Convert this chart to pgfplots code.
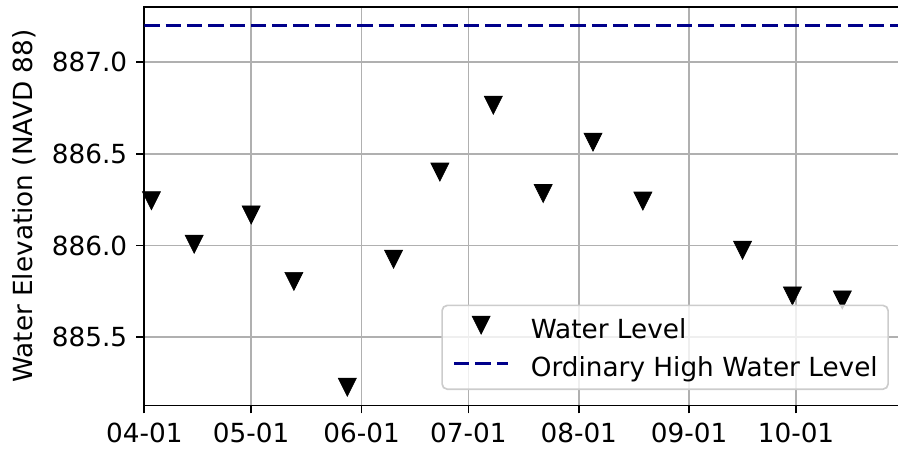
\documentclass[border=0pt]{standalone}
\usepackage{pgfplots}
\pgfplotsset{compat=1.18}
\usepackage{pgfplotstable}
\usepackage{fontspec}
\setmainfont{DejaVu Sans}
\definecolor{gridgray}{HTML}{B0B0B0}
\definecolor{ohwl}{HTML}{00008B}
\definecolor{legframe}{HTML}{CCCCCC}
\pgfdeclareplotmark{vtri}{%
  \pgfpathmoveto{\pgfqpoint{0pt}{-\pgfplotmarksize}}%
  \pgfpathlineto{\pgfqpoint{-\pgfplotmarksize}{\pgfplotmarksize}}%
  \pgfpathlineto{\pgfqpoint{\pgfplotmarksize}{\pgfplotmarksize}}%
  \pgfpathclose\pgfusepathqfillstroke}
\pgfplotsset{
  markimg/.style={legend image code/.code={\path (0bp,1.5bp) (26bp,1.5bp); \draw[mark=vtri,##1,fill opacity=1,draw opacity=1] plot coordinates {(13bp,1.5bp)};}},
  lineimg/.style={legend image code/.code={\draw[##1,draw opacity=1] (0bp,1.5bp) -- (26bp,1.5bp);}},
}

% day = days since 04-01
\pgfplotstableread{
day level
2   886.244
14  886.007
30  886.166
42  885.804
57  885.228
70  885.925
83  886.400
98  886.764
112 886.283
126 886.563
140 886.242
168 885.974
182 885.725
196 885.703
}\waterdata

\begin{document}
\fontsize{12.65bp}{15.2bp}\selectfont
\begin{tikzpicture}
\begin{axis}[name=ax,
  scale only axis, width=363.5bp, height=191.85bp,
  xmin=0, xmax=212.2, ymin=885.128, ymax=887.301,
  xtick={0,30,61,91,122,153,183},
  xticklabels={04-01,05-01,06-01,07-01,08-01,09-01,10-01},
  ytick={885.5,886,886.5,887},
  yticklabel style={/pgf/number format/.cd, fixed, fixed zerofill, precision=1, 1000 sep={}, assume math mode=true},
  grid=major, major grid style={gridgray, line width=0.8bp},
  axis line style={black, line width=0.8bp},
  tick align=outside, major tick length=3.8bp,
  tick style={black, line width=0.8bp},
  xtick pos=lower, ytick pos=left,
  ylabel={Water Elevation (NAVD 88)},
  ylabel style={at={(axis description cs:-0.159,0.5)}, anchor=center},
  legend cell align=left,
  legend style={at={(0.9854,0.0389)}, anchor=south east,
    draw=legframe, line width=0.8bp, rounded corners=2.5bp,
    fill=white, fill opacity=0.8, text opacity=1,
    inner xsep=5bp, inner ysep=5bp, row sep=6.3bp, column sep=10.1bp,
    nodes={inner sep=0pt, text height=10.7bp, text depth=1.3bp}},
]
\addplot[only marks, mark=vtri, mark size=4.35bp, black, fill=black, line width=0.3bp, markimg]
  table[x=day, y=level]{\waterdata};
\addlegendentry{Water Level}
\addplot[ohwl, line width=1.6bp, dash pattern=on 7.35bp off 2.9bp, lineimg]
  coordinates {(0,887.2) (212.2,887.2)};
\addlegendentry{Ordinary High Water Level}
\end{axis}
\pgfresetboundingbox
\path[use as bounding box] ([shift={(-69.42bp,-22.37bp)}]ax.south west) rectangle ([shift={(-0.96bp,3.22bp)}]ax.north east);
\end{tikzpicture}
\end{document}
